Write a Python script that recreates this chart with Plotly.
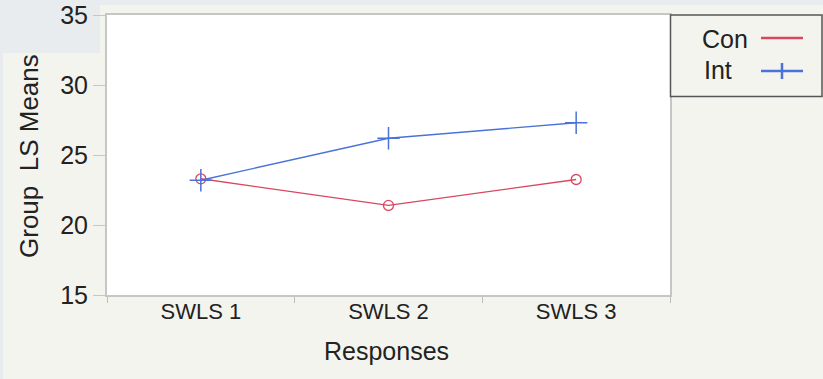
import plotly.graph_objects as go

categories = ["SWLS 1", "SWLS 2", "SWLS 3"]
con_values = [23.3, 21.4, 23.25]
int_values = [23.2, 26.2, 27.3]
y_ticks = [15, 20, 25, 30, 35]

RED = "#d9475f"
BLUE = "#4a72d8"
TXT = "#222222"
FONT = "Liberation Sans, Arial, sans-serif"

W, H = 823, 379
L, R, T, B = 107, 153, 15, 84
pw, ph = W - L - R, H - T - B

def px(x):
    return (x - L) / pw

def py(y):
    return (H - B - y) / ph

fig = go.Figure()
fig.add_trace(go.Scatter(
    x=categories, y=con_values, name="Con", mode="lines+markers",
    line=dict(color=RED, width=1.4),
    marker=dict(symbol="circle-open", size=10, color=RED, line=dict(width=1.3, color=RED)),
))
fig.add_trace(go.Scatter(
    x=categories, y=int_values, name="Int", mode="lines+markers",
    line=dict(color=BLUE, width=1.4),
    marker=dict(symbol="cross-thin-open", size=16, color=BLUE, line=dict(width=1.5, color=BLUE)),
))

shapes = [
    # background bluish strips
    dict(type="rect", xref="paper", yref="paper", x0=px(0), x1=px(W), y0=py(5), y1=py(0),
         fillcolor="#e8ecee", line=dict(width=0), layer="below"),
    dict(type="rect", xref="paper", yref="paper", x0=px(0), x1=px(100), y0=py(53), y1=py(0),
         fillcolor="#e8ecee", line=dict(width=0), layer="below"),
    dict(type="rect", xref="paper", yref="paper", x0=px(0), x1=px(3), y0=py(H), y1=py(0),
         fillcolor="#e8ecee", line=dict(width=0), layer="below"),
    # legend box
    dict(type="rect", xref="paper", yref="paper", x0=px(670.5), x1=px(822), y0=py(96.5), y1=py(15),
         fillcolor="#f4f4ef", line=dict(width=1.5, color="#555555")),
    dict(type="line", xref="paper", yref="paper", x0=px(761), x1=px(803), y0=py(38), y1=py(38),
         line=dict(color=RED, width=2.5)),
    dict(type="line", xref="paper", yref="paper", x0=px(761), x1=px(803), y0=py(71), y1=py(71),
         line=dict(color=BLUE, width=2.5)),
    dict(type="line", xref="paper", yref="paper", x0=px(782), x1=px(782), y0=py(63), y1=py(79),
         line=dict(color=BLUE, width=2.5)),
]

annotations = [
    dict(text="Con", xref="paper", yref="paper", x=px(750), y=py(39), xanchor="right", yanchor="middle",
         showarrow=False, font=dict(family=FONT, size=25, color=TXT)),
    dict(text="Int", xref="paper", yref="paper", x=px(734), y=py(70), xanchor="right", yanchor="middle",
         showarrow=False, font=dict(family=FONT, size=25, color=TXT)),
    dict(text="Group  LS Means", xref="paper", yref="paper", x=px(29), y=py(156), xanchor="center",
         yanchor="middle", textangle=-90, showarrow=False, font=dict(family=FONT, size=26, color=TXT)),
    dict(text="Responses", xref="paper", yref="paper", x=px(386), y=py(351), xanchor="center",
         yanchor="middle", showarrow=False, font=dict(family=FONT, size=25, color=TXT)),
]

fig.update_layout(
    width=W, height=H,
    margin=dict(l=L, r=R, t=T, b=B, pad=0, autoexpand=False),
    paper_bgcolor="#f4f4ef",
    plot_bgcolor="#ffffff",
    showlegend=False,
    shapes=shapes,
    annotations=annotations,
    font=dict(family=FONT, color=TXT),
)
fig.update_xaxes(
    type="category", range=[-0.5, 2.5], tickson="boundaries", automargin=False,
    ticks="outside", ticklen=6, tickcolor="#bdbdbd", tickwidth=1.2,
    showline=True, linecolor="#c6c6c6", linewidth=2, mirror=True,
    showgrid=False, zeroline=False, ticklabelstandoff=-4,
    tickfont=dict(family=FONT, size=22, color=TXT),
)
fig.update_yaxes(
    range=[15, 35], tickvals=y_ticks, automargin=False,
    ticks="outside", ticklen=12, tickcolor="#c6c6c6", tickwidth=1.2,
    showline=True, linecolor="#c6c6c6", linewidth=2, mirror=True,
    showgrid=False, zeroline=False,
    tickfont=dict(family=FONT, size=25, color=TXT),
)

fig.write_html(
    "out.html",
    config={"displayModeBar": False},
    post_script=(
        "document.body.style.margin='0';document.body.style.padding='0';"
        "document.documentElement.style.overflow='hidden';"
        "var d=document.getElementById('{plot_id}');"
        "d.style.position='absolute';d.style.top='0px';d.style.left='0px';"
    ),
)
